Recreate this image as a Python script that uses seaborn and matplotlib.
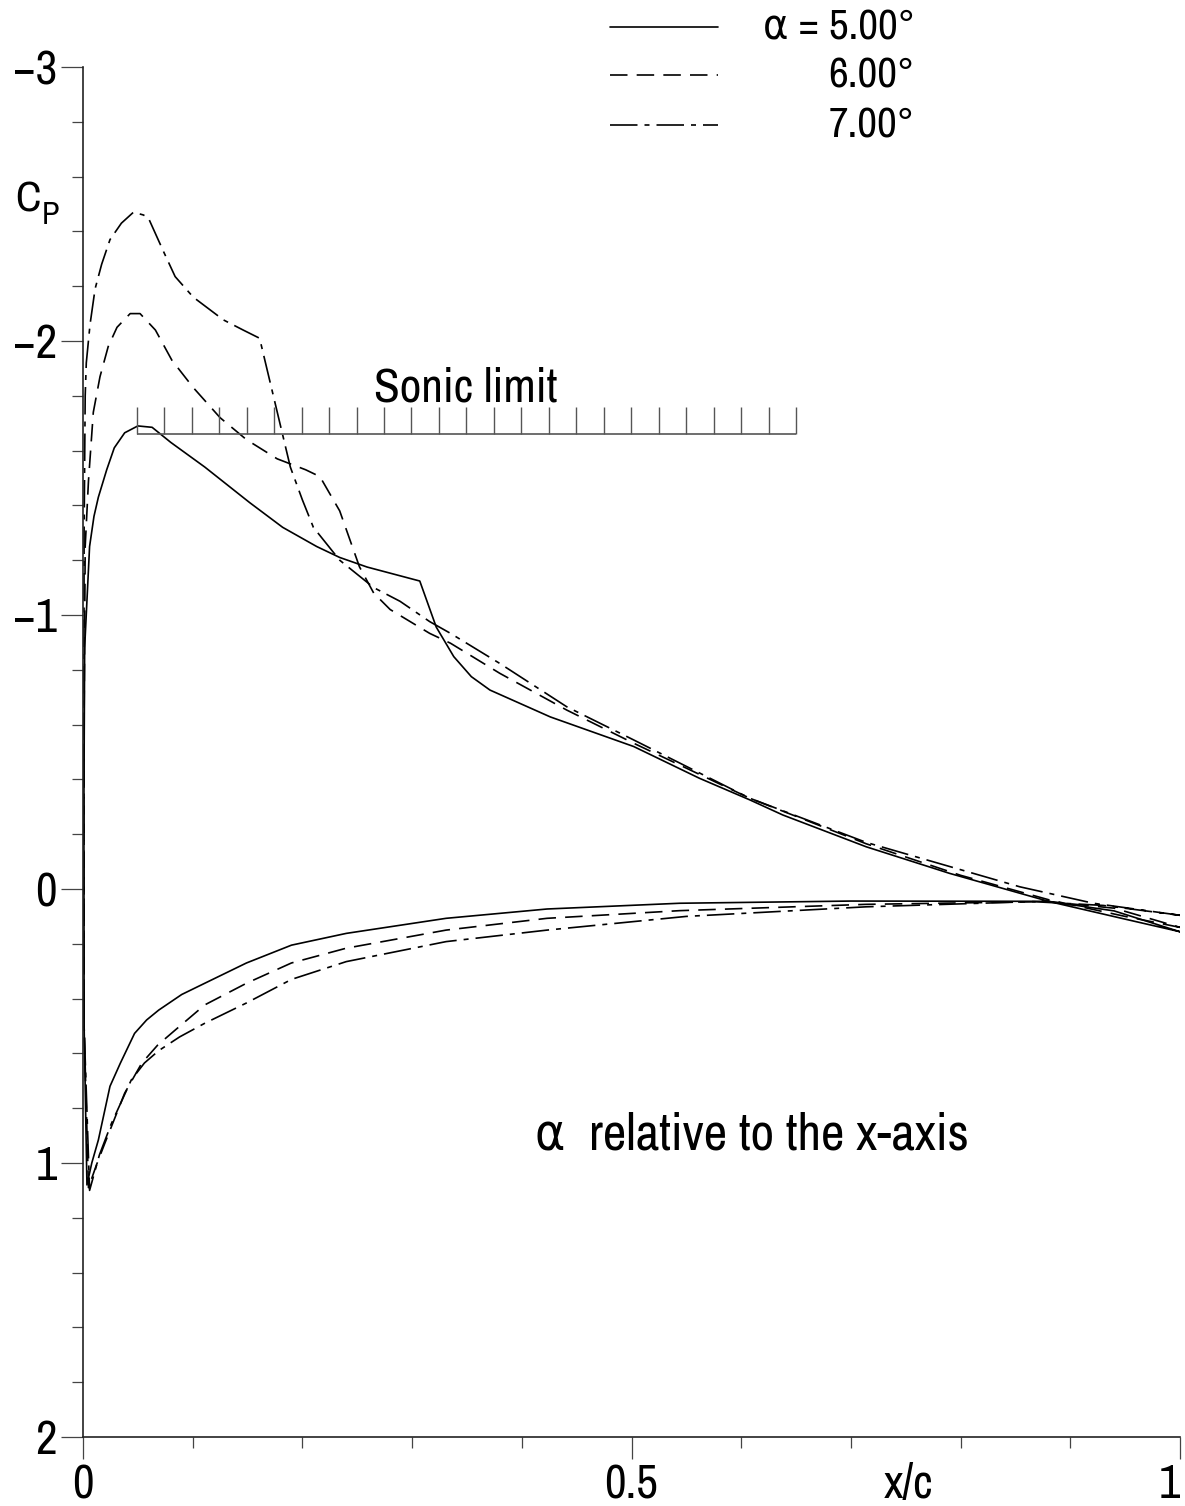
import numpy as np
import pandas as pd
import matplotlib
matplotlib.use("Agg")
import matplotlib.pyplot as plt
import seaborn as sns
from matplotlib.lines import Line2D
from matplotlib import font_manager as fm

# ---------------- data ----------------
alpha_labels = ["5.00", "6.00", "7.00"]

# upper surface, leading edge -> trailing edge
up5_x = [0.001, 0.0008, 0.0015, 0.006, 0.010, 0.014, 0.0216, 0.0285, 0.038, 0.050, 0.063, 0.080,
         0.111, 0.152, 0.182, 0.213, 0.234, 0.259, 0.307, 0.322, 0.338, 0.354, 0.371, 0.426,
         0.502, 0.562, 0.608, 0.638, 0.714, 0.790, 0.881, 0.950, 1.000]
up5_cp = [0.50, -0.30, -0.88, -1.25, -1.36, -1.43, -1.53, -1.61, -1.665, -1.69, -1.685, -1.63,
          -1.54, -1.41, -1.32, -1.25, -1.21, -1.175, -1.124, -0.956, -0.848, -0.775, -0.726, -0.628,
          -0.52, -0.404, -0.325, -0.27, -0.154, -0.057, 0.046, 0.11, 0.156]
# lower surface, stagnation point -> trailing edge
lo5_x = [0.0036, 0.008, 0.014, 0.0246, 0.034, 0.047, 0.058, 0.069, 0.090, 0.111, 0.149, 0.190,
         0.240, 0.331, 0.423, 0.544, 0.700, 0.880, 0.940, 1.000]
lo5_cp = [1.08, 1.00, 0.916, 0.72, 0.636, 0.527, 0.478, 0.442, 0.385, 0.344, 0.27, 0.205,
          0.162, 0.107, 0.073, 0.052, 0.044, 0.045, 0.08, 0.156]

up6_x = [0.001, 0.0008, 0.002, 0.005, 0.0094, 0.0155, 0.023, 0.031, 0.043, 0.052, 0.066, 0.081,
         0.1005, 0.125, 0.149, 0.177, 0.203, 0.216, 0.234, 0.252, 0.265, 0.280, 0.316, 0.335,
         0.380, 0.441, 0.502, 0.608, 0.714, 0.800, 0.881, 0.950, 1.000]
up6_cp = [0.50, -0.50, -1.25, -1.49, -1.74, -1.87, -1.98, -2.05, -2.10, -2.10, -2.04, -1.93,
          -1.83, -1.72, -1.64, -1.57, -1.53, -1.505, -1.38, -1.176, -1.08, -1.02, -0.933, -0.897,
          -0.787, -0.653, -0.532, -0.331, -0.165, -0.05, 0.04, 0.10, 0.14]
lo6_x = [0.005, 0.012, 0.020, 0.038, 0.0535, 0.068, 0.084, 0.111, 0.149, 0.190, 0.240, 0.331,
         0.423, 0.544, 0.714, 0.880, 0.940, 1.000]
lo6_cp = [1.09, 1.01, 0.927, 0.745, 0.636, 0.57, 0.515, 0.423, 0.344, 0.27, 0.216, 0.15,
          0.107, 0.079, 0.056, 0.046, 0.07, 0.14]

up7_x = [0.001, 0.0008, 0.001, 0.002, 0.003, 0.0064, 0.011, 0.017, 0.0246, 0.035, 0.046, 0.055,
         0.0595, 0.073, 0.084, 0.1005, 0.128, 0.146, 0.161, 0.1765, 0.189, 0.200, 0.210, 0.234,
         0.265, 0.289, 0.316, 0.335, 0.380, 0.441, 0.502, 0.608, 0.714, 0.854, 0.921, 1.000]
up7_cp = [0.50, -0.50, -1.30, -1.80, -1.92, -2.06, -2.19, -2.28, -2.37, -2.43, -2.47, -2.46,
          -2.45, -2.33, -2.235, -2.16, -2.077, -2.04, -2.01, -1.75, -1.54, -1.42, -1.32, -1.20,
          -1.10, -1.05, -0.976, -0.933, -0.823, -0.665, -0.544, -0.331, -0.17, -0.008, 0.052, 0.096]
lo7_x = [0.006, 0.015, 0.026, 0.044, 0.056, 0.069, 0.088, 0.111, 0.149, 0.190, 0.240, 0.331,
         0.423, 0.550, 0.714, 0.866, 0.930, 1.000]
lo7_cp = [1.10, 0.97, 0.855, 0.697, 0.635, 0.59, 0.54, 0.49, 0.416, 0.33, 0.265, 0.192,
          0.150, 0.10, 0.065, 0.046, 0.06, 0.096]

sonic_cp = -1.66
sonic_x_start = 0.049
sonic_x_end = 0.65

x_tick_major = [0.0, 0.5, 1.0]
x_tick_labels = ["0", "0.5", "1"]
y_tick_major = [-3, -2, -1, 0, 1, 2]
y_tick_labels = ["\u22123", "\u22122", "\u22121", "0", "1", "2"]

# ---------------- build table ----------------
frames = []
for lab, ux, ucp, lx, lcp in [
    (alpha_labels[0], up5_x, up5_cp, lo5_x, lo5_cp),
    (alpha_labels[1], up6_x, up6_cp, lo6_x, lo6_cp),
    (alpha_labels[2], up7_x, up7_cp, lo7_x, lo7_cp),
]:
    xs = list(reversed(ux)) + list(lx)
    cps = list(reversed(ucp)) + list(lcp)
    frames.append(pd.DataFrame({"x": xs, "cp": cps, "alpha": lab, "order": np.arange(len(xs))}))
df = pd.concat(frames, ignore_index=True)

# ---------------- font choice (prefer a narrow face, fall back for missing glyphs) ----------------
def pick_font():
    prefs = []
    for f in fm.fontManager.ttflist:
        nm = f.name
        st = str(f.stretch).lower()
        if f.style != "normal":
            continue
        w = f.weight if isinstance(f.weight, int) else (400 if str(f.weight) in ("normal", "regular", "book") else 700)
        if w > 500:
            continue
        if "Narrow" in nm:
            prefs.append((0, abs(w - 400), nm, f.stretch))
        elif "Condensed" in nm or st in ("condensed", "semi-condensed", "extra-condensed"):
            prefs.append((1, abs(w - 400), nm, f.stretch))
    prefs.sort(key=lambda p: (p[0], p[1], p[2]))
    return (prefs[0][2], prefs[0][3]) if prefs else (None, "normal")

font_name, font_stretch = pick_font()

sns.set_theme(style="white")
plt.rcParams["font.family"] = ["DejaVu Sans"]
plt.rcParams["axes.unicode_minus"] = True
plt.rcParams["text.color"] = "black"

def fp(size):
    fams = [font_name, "DejaVu Sans"] if font_name else ["DejaVu Sans"]
    return fm.FontProperties(family=fams, stretch=font_stretch if font_name else "normal",
                             weight="normal", size=size)

W, H = 1185, 1506
fig = plt.figure(figsize=(W / 100, H / 100), dpi=100)
x0, x1, y0, y1 = 83, 1180, 67, 1437
ax = fig.add_axes([x0 / W, 1 - y1 / H, (x1 - x0) / W, (y1 - y0) / H])

lw = 1.2
dash_map = {
    alpha_labels[0]: "",
    alpha_labels[1]: (10.5, 5.5),
    alpha_labels[2]: (16.5, 4.2, 3.0, 4.2),
}
sns.lineplot(data=df, x="x", y="cp", style="alpha", dashes=dash_map, sort=False,
             estimator=None, color="black", lw=lw, legend=False, ax=ax)

# sonic limit
ax.hlines(sonic_cp, sonic_x_start, sonic_x_end, color="#555555", lw=1.2)
ax.vlines(np.linspace(sonic_x_start, sonic_x_end, 25), sonic_cp, sonic_cp - 0.098,
          color="#555555", lw=1.0)
t_sonic = ax.text(0.349, -1.829, "Sonic limit", ha="center", va="center", fontproperties=fp(32))
t_rel = ax.text(0.61, 0.898, "\u03b1  relative to the x-axis", ha="center", va="center",
                fontproperties=fp(32))

# axes
ax.set_xlim(0, 1)
ax.set_ylim(2, -3)
ax.set_xlabel("")
ax.set_ylabel("")
for s in ["top", "right"]:
    ax.spines[s].set_visible(False)
for s in ["left", "bottom"]:
    ax.spines[s].set_color("#222222")
    ax.spines[s].set_linewidth(1.2)
ax.set_xticks(x_tick_major)
ax.set_xticklabels(x_tick_labels)
ax.set_xticks(np.arange(0, 1.001, 0.1), minor=True)
ax.set_yticks(y_tick_major)
ax.set_yticklabels(y_tick_labels)
ax.set_yticks(np.arange(-3, 2.001, 0.2), minor=True)
ax.tick_params(which="both", direction="out", bottom=True, left=True, color="#444444",
               width=0.9, labelcolor="black")
ax.tick_params(which="major", length=15.8, pad=3)
ax.tick_params(which="minor", length=7.9)
ax.patch.set_alpha(0)
ax.get_xticklabels()[-1].set_horizontalalignment("right")

# axis titles
t_xc = fig.text(908 / W, 1 - 1484 / H, "x/c", ha="center", va="center", fontproperties=fp(32))
t_c = fig.text(28 / W, 1 - 199 / H, "C", ha="center", va="center", fontproperties=fp(31))
t_p = fig.text(50 / W, 1 - 215 / H, "P", ha="center", va="center", fontproperties=fp(23))

# legend (drawn manually)
leg_y = [27, 75, 125]
leg_styles = ["-", (0, (10.5, 5.5)), (0, (16.5, 4.2, 3.0, 4.2))]
leg_texts = ["\u03b1 = " + alpha_labels[0] + "\u00b0", alpha_labels[1] + "\u00b0", alpha_labels[2] + "\u00b0"]
leg_objs = []
for yy, ls, tt in zip(leg_y, leg_styles, leg_texts):
    fig.add_artist(Line2D([610 / W, 718 / W], [1 - yy / H, 1 - yy / H], transform=fig.transFigure,
                          color="black", lw=lw, linestyle=ls))
    leg_objs.append(fig.text(915 / W, 1 - (yy + 1) / H, tt, ha="right", va="center",
                             fontproperties=fp(28)))

# tick label fonts
for lab in ax.get_xticklabels() + ax.get_yticklabels():
    lab.set_fontproperties(fp(32))

# ---- fit text widths to the reference layout ----
fig.canvas.draw()
r = fig.canvas.get_renderer()

def fit(t, target_w, max_size):
    w = t.get_window_extent(r).width
    s = t.get_fontsize() * target_w / max(w, 1)
    t.set_fontsize(min(s, max_size))
    return min(s, max_size)

fit(t_sonic, 188, 34)
fit(t_rel, 461, 37)
fit(t_xc, 58, 34)
s_leg = fit(leg_objs[0], 160, 31)
for t in leg_objs[1:]:
    t.set_fontsize(s_leg)
ref_lab = ax.get_xticklabels()[1]
w05 = ref_lab.get_window_extent(r).width
s_tick = min(34, 32 * 57 / max(w05, 1))
for lab in ax.get_xticklabels() + ax.get_yticklabels():
    lab.set_fontsize(s_tick)
ax.get_xticklabels()[-1].set_horizontalalignment("right")

fig.savefig("out.png", dpi=100, facecolor="white")
